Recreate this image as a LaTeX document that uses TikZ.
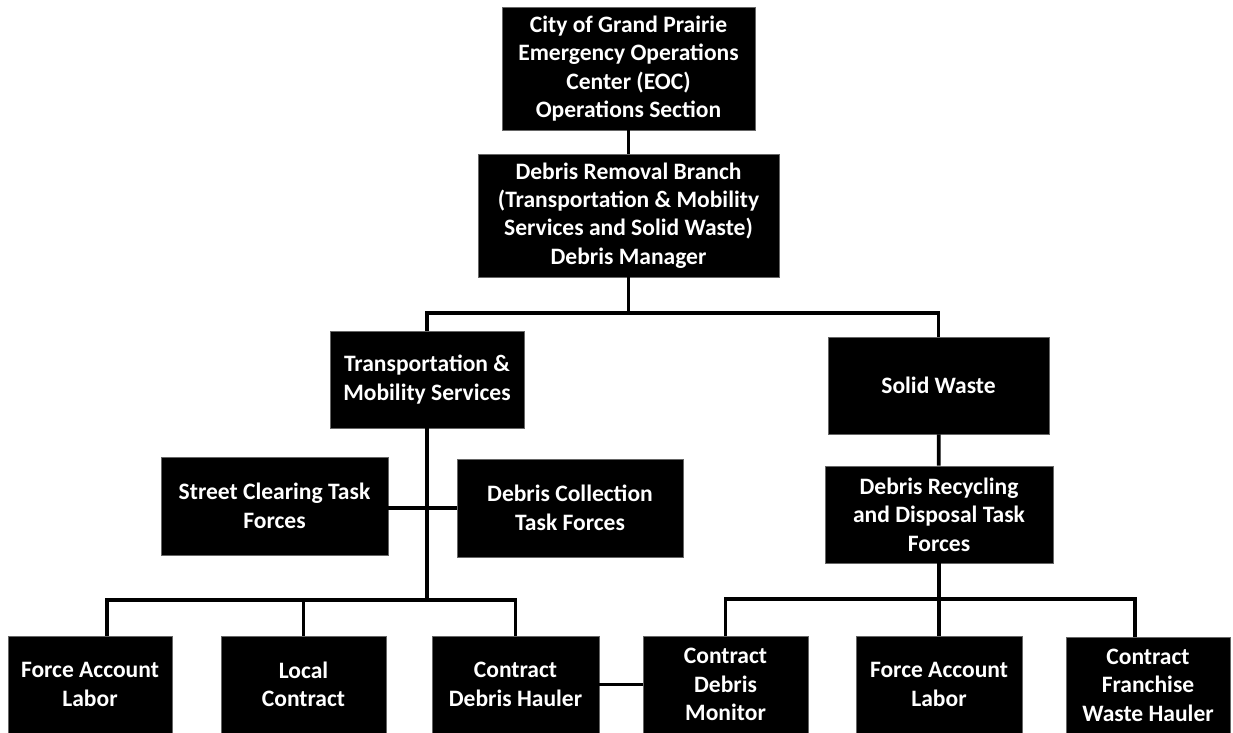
\documentclass[tikz,border=0pt]{standalone}
\usepackage{fontspec}
\setmainfont{Carlito}
\usepackage{tikz}

\tikzset{
  box/.style={draw=black!60,fill=black,text=white,align=center,
    font=\bfseries\fontsize{13.4}{16.2}\selectfont,inner sep=2pt},
  link/.style={line width=2.1pt}
}

\begin{document}
\begin{tikzpicture}[x=0.02cm,y=-0.02cm]
\useasboundingbox (0,0) rectangle (1233,733);
% top of the chart
\node[box,minimum width=5.06cm,minimum height=2.46cm] (eoc) at (628.5,68.5) {City of Grand Prairie\\Emergency Operations\\Center (EOC)\\Operations Section};
\node[box,minimum width=6.02cm,minimum height=2.46cm] (branch) at (628.5,215.5) {Debris Removal Branch\\(Transportation \& Mobility\\Services and Solid Waste)\\Debris Manager};
% the two departments
\node[box,minimum width=3.88cm,minimum height=1.94cm] (tms) at (427,379.5) {Transportation \&\\Mobility Services};
\node[box,minimum width=4.42cm,minimum height=1.94cm] (solid) at (938.5,385.5) {Solid Waste};
% task forces
\node[box,minimum width=4.54cm,minimum height=1.96cm] (street) at (274.5,506) {Street Clearing Task\\Forces};
\node[box,minimum width=4.52cm,minimum height=1.96cm] (collect) at (570,508) {Debris Collection\\Task Forces};
\node[box,minimum width=4.56cm,minimum height=1.94cm] (recycle) at (939,514.5) {Debris Recycling\\and Disposal Task\\Forces};
% bottom row
\node[box,minimum width=3.28cm,minimum height=1.94cm] (fala) at (90,684.5) {Force Account\\Labor};
\node[box,minimum width=3.30cm,minimum height=1.94cm] (local) at (303.5,684.5) {Local\\Contract};
\node[box,minimum width=3.34cm,minimum height=1.94cm] (hauler) at (515.5,684.5) {Contract\\Debris Hauler};
\node[box,minimum width=3.30cm,minimum height=1.94cm] (monitor) at (725.5,684.5) {Contract\\Debris\\Monitor};
\node[box,minimum width=3.32cm,minimum height=1.94cm] (falb) at (939,684.5) {Force Account\\Labor};
\node[box,minimum width=3.28cm,minimum height=1.92cm] (franchise) at (1148,685) {Contract\\Franchise\\Waste Hauler};

\coordinate (busa) at (628.5,313);
\coordinate (busb) at (427,600);
\coordinate (busc) at (939,599);

\draw[link] (eoc) -- (branch);
\draw[link] (branch) -- (busa);
\draw[link] (tms.north) |- (busa) -| (solid.north);
\draw[link] (solid) -- (recycle);
\draw[link] (tms) -- (busb);
\draw[link] (street.east |- collect.west) -- (collect.west);
\draw[link] ([xshift=0.34cm]fala.north) |- (busb) -| (hauler.north);
\draw[link] (local.north) -- (local.north |- busb);
\draw[link] (recycle) -- (busc);
\draw[link] (monitor.north) |- (busc) -| ([xshift=-0.26cm]franchise.north);
\draw[link] (falb.north) -- (falb.north |- busc);
\draw[link] (hauler) -- (monitor);
\end{tikzpicture}
\end{document}
